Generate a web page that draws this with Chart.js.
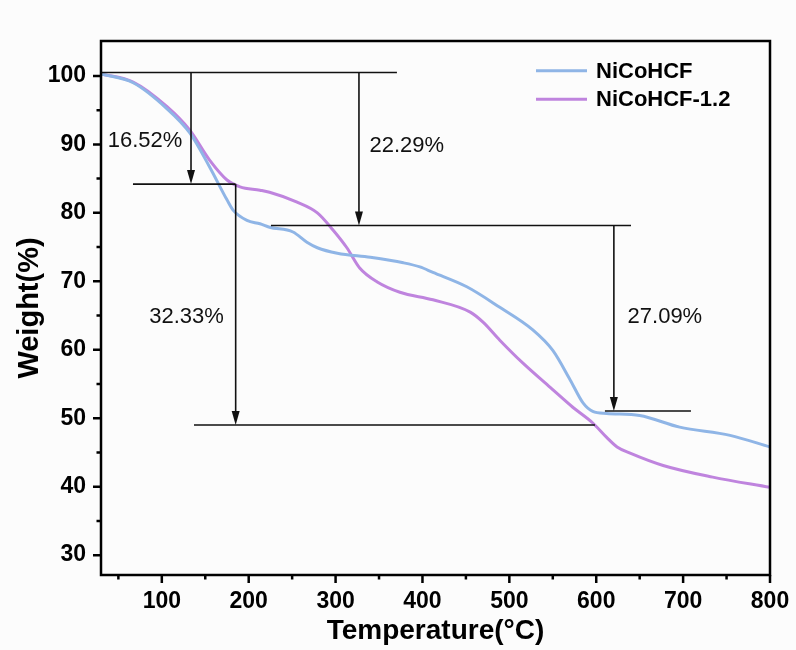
<!DOCTYPE html>
<html><head><meta charset="utf-8">
<script src="https://cdn.jsdelivr.net/npm/chart.js@4/dist/chart.umd.min.js"></script>
<style>html,body{margin:0;padding:0;background:#fcfcfc;}#wrap{width:796px;height:650px;}</style>
</head><body><div id="wrap"><canvas id="c" width="796" height="650"></canvas></div>
<script>
// ---- data ----
const seriesNames = ['NiCoHCF', 'NiCoHCF-1.2'];
const tempA = [30, 67, 106, 132, 155, 175, 182, 198, 213, 224, 251, 267, 279, 302, 340, 378, 397, 412, 451, 489, 527, 550, 570, 585, 596, 612, 650, 696, 754, 800];
const weightA = [100.3, 99.0, 95.2, 91.7, 86.7, 81.9, 80.4, 78.9, 78.4, 77.9, 77.2, 75.7, 74.9, 74.1, 73.5, 72.7, 72.1, 71.3, 69.2, 66.2, 62.9, 59.9, 55.6, 52.2, 51.0, 50.7, 50.4, 48.7, 47.5, 45.8];
const tempB = [30, 67, 106, 132, 155, 175, 190, 213, 224, 255, 279, 297, 313, 328, 348, 374, 412, 455, 470, 489, 516, 547, 573, 596, 612, 624, 639, 677, 734, 800];
const weightB = [100.3, 99.1, 95.5, 92.1, 87.7, 84.8, 83.8, 83.3, 83.0, 81.6, 80.0, 77.5, 74.9, 71.9, 69.9, 68.4, 67.3, 65.5, 64.0, 61.4, 58.0, 54.5, 51.6, 49.3, 47.2, 45.8, 44.9, 43.1, 41.4, 39.9];
const xTickValues = [100, 200, 300, 400, 500, 600, 700, 800];
const xMinorValues = [50, 150, 250, 350, 450, 550, 650, 750];
const yTickValues = [30, 40, 50, 60, 70, 80, 90, 100];
const yMinorValues = [35, 45, 55, 65, 75, 85, 95];
// annotation segments in data units: [x1, y, x2]
const hSegments = [[30, 100.5, 370.6], [66.8, 84.2, 184.8], [137, 49.0, 598.5], [225.6, 78.14, 640], [610, 51.05, 709]];
// vertical arrows: [x, yFrom, yTo]
const vArrows = [[133.6, 100.5, 84.2], [185.0, 84.2, 49.0], [326.9, 100.5, 78.14], [620.3, 78.14, 51.05]];
const labelTexts = ['16.52%', '22.29%', '32.33%', '27.09%'];
const labelX = [80.6, 382, 128.4, 679];
const labelY = [90.5, 89.7, 64.8, 64.8];

const FONT = '"Liberation Sans", Arial, sans-serif';
const colors = ['#8fb5e6', '#bf84de'];

const mk = (xs, ys) => xs.map((x, i) => ({x: x, y: ys[i]}));

const decor = {
  id: 'decor',
  afterDatasetsDraw(chart) {
    const ctx = chart.ctx, xs = chart.scales.x, ys = chart.scales.y;
    ctx.save();
    ctx.strokeStyle = '#111'; ctx.fillStyle = '#111'; ctx.lineWidth = 1.6;
    hSegments.forEach(s => {
      const y = ys.getPixelForValue(s[1]);
      ctx.beginPath(); ctx.moveTo(xs.getPixelForValue(s[0]), y); ctx.lineTo(xs.getPixelForValue(s[2]), y); ctx.stroke();
    });
    vArrows.forEach(a => {
      const x = xs.getPixelForValue(a[0]);
      const y1 = ys.getPixelForValue(a[1]), y2 = ys.getPixelForValue(a[2]);
      ctx.beginPath(); ctx.moveTo(x, y1); ctx.lineTo(x, y2 - 12); ctx.stroke();
      ctx.beginPath(); ctx.moveTo(x, y2); ctx.lineTo(x - 4, y2 - 14); ctx.lineTo(x + 4, y2 - 14); ctx.closePath(); ctx.fill();
    });
    ctx.font = '22px ' + FONT; ctx.textAlign = 'center'; ctx.textBaseline = 'middle';
    labelTexts.forEach((t, i) => ctx.fillText(t, xs.getPixelForValue(labelX[i]), ys.getPixelForValue(labelY[i])));
    ctx.restore();
  },
  afterDraw(chart) {
    const ctx = chart.ctx, a = chart.chartArea, xs = chart.scales.x, ys = chart.scales.y;
    ctx.save();
    ctx.strokeStyle = '#000'; ctx.lineWidth = 2.5;
    ctx.strokeRect(a.left, a.top, a.right - a.left, a.bottom - a.top);
    ctx.beginPath();
    xTickValues.forEach(v => { const x = xs.getPixelForValue(v); ctx.moveTo(x, a.bottom); ctx.lineTo(x, a.bottom + 8); });
    xMinorValues.forEach(v => { const x = xs.getPixelForValue(v); ctx.moveTo(x, a.bottom); ctx.lineTo(x, a.bottom + 4.5); });
    yTickValues.forEach(v => { const y = ys.getPixelForValue(v); ctx.moveTo(a.left, y); ctx.lineTo(a.left - 8, y); });
    yMinorValues.forEach(v => { const y = ys.getPixelForValue(v); ctx.moveTo(a.left, y); ctx.lineTo(a.left - 4.5, y); });
    ctx.stroke();
    // legend
    ctx.font = 'bold 22px ' + FONT; ctx.textAlign = 'left'; ctx.textBaseline = 'middle'; ctx.fillStyle = '#000';
    chart.data.datasets.forEach((d, i) => {
      const y = 70.7 + i * 28.5;
      ctx.strokeStyle = d.borderColor; ctx.lineWidth = 3;
      ctx.beginPath(); ctx.moveTo(536, y); ctx.lineTo(587, y); ctx.stroke();
      ctx.fillText(d.label, 596, y + 1);
    });
    ctx.restore();
  }
};

new Chart(document.getElementById('c'), {
  type: 'line',
  data: {
    datasets: [
      {label: seriesNames[0], data: mk(tempA, weightA), borderColor: colors[0], borderWidth: 3, pointRadius: 0, cubicInterpolationMode: 'monotone', fill: false},
      {label: seriesNames[1], data: mk(tempB, weightB), borderColor: colors[1], borderWidth: 3, pointRadius: 0, cubicInterpolationMode: 'monotone', fill: false}
    ]
  },
  options: {
    responsive: false, animation: false, devicePixelRatio: 1,
    layout: {padding: {left: 0, right: 26, top: 41, bottom: 0}},
    plugins: {legend: {display: false}, tooltip: {enabled: false}},
    scales: {
      x: {
        type: 'linear', min: 30, max: 800,
        afterBuildTicks: s => { s.ticks = xTickValues.map(v => ({value: v})); },
        afterFit: s => { s.height = 75; s.paddingLeft = 0; s.paddingRight = 0; },
        grid: {display: false, drawTicks: false}, border: {display: false},
        ticks: {color: '#000', font: {family: FONT, size: 23, weight: 'bold'}, padding: 13, maxRotation: 0, autoSkip: false},
        title: {display: true, text: 'Temperature(°C)', color: '#000', font: {family: FONT, size: 28, weight: 'bold'}, padding: {top: 0, bottom: 2}}
      },
      y: {
        type: 'linear', min: 27.1, max: 105.1,
        afterBuildTicks: s => { s.ticks = yTickValues.map(v => ({value: v})); },
        afterFit: s => { s.width = 101; s.paddingTop = 0; s.paddingBottom = 0; },
        grid: {display: false, drawTicks: false}, border: {display: false},
        ticks: {color: '#000', font: {family: FONT, size: 23, weight: 'bold'}, padding: 15, autoSkip: false},
        title: {display: true, text: 'Weight(%)', color: '#000', font: {family: FONT, size: 29, weight: 'bold'}, padding: {top: 13, bottom: 0}}
      }
    }
  },
  plugins: [decor]
});
</script></body></html>
